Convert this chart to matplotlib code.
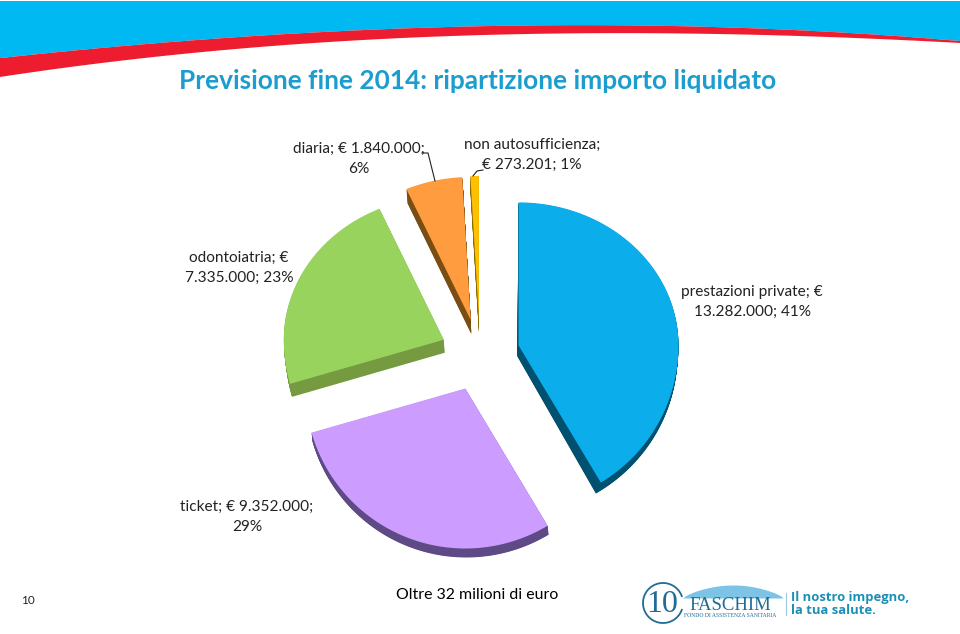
import matplotlib
matplotlib.use("Agg")
import matplotlib.pyplot as plt
import numpy as np

# data: importo liquidato (migliaia di euro)
categories = ["prestazioni private", "ticket", "odontoiatria", "diaria", "non autosufficienza"]
values = [13282, 9352, 7335, 1840, 273.201]
percent = [41, 29, 23, 6, 1]

top_colors = ["#0BAEEA", "#CC9CFF", "#98D35E", "#FF9C40", "#FFC000"]
side_colors = ["#00506F", "#5E4A85", "#769A40", "#7A4E12", "#8A6A00"]
# how the wall of each slice runs away from the top face (perspective)
wall_dx_start = [0, 1, 2, 1, 0]
wall_dx_end = [-5, 1, 2, 1, 0]
wall_dy = [11, 9, 13, 14, 14]

plt.rcParams["font.family"] = ["Lato", "DejaVu Sans"]

fig = plt.figure(figsize=(9.6, 6.34), dpi=100)
ax = fig.add_axes([0, 0, 1, 1])
ax.set_xlim(0, 960)
ax.set_ylim(634, 0)
ax.axis("off")

# header band
xs = np.linspace(0, 960, 200)
red_top = np.polyval(np.polyfit([0, 246, 492, 615, 960], [58, 37, 25, 26, 41], 3), xs)
red_bot = np.polyval(np.polyfit([0, 246, 492, 615, 800, 960], [77, 48, 35, 33, 36, 43], 3), xs)
ax.fill_between(xs, 1, red_top, color="#00B9F2", lw=0)
ax.fill_between(xs, red_top, red_bot, color="#ED1C2E", lw=0)

ax.text(478, 81, "Previsione fine 2014: ripartizione importo liquidato",
        fontsize=18.9, fontweight="bold", color="#1B9DCF", ha="center", va="center")

# exploded pie, projected by hand so the slices get a thickness
cx, cy = 480, 355
rx, ry_up, ry_down = 160, 143, 160
explode = 40


def project(theta, r=1.0):
    # theta clockwise from 12 o'clock
    dx = r * rx * np.sin(theta)
    c = np.cos(theta)
    dy = -r * c * np.where(c > 0, ry_up, ry_down)
    return dx, dy


total = sum(values)
start = 0.0
for i, val in enumerate(values):
    sweep = 2 * np.pi * val / total
    th = np.linspace(start, start + sweep, 80)
    mid = start + sweep / 2
    ox = cx + explode * np.sin(mid)
    oy = cy - explode * np.cos(mid) * 0.9
    dx, dy = project(th)
    px = np.r_[ox, ox + dx]
    py = np.r_[oy, oy + dy]
    # walls: the same outline pushed away step by step
    shift = wall_dx_start[i] + (wall_dx_end[i] - wall_dx_start[i]) * np.linspace(0, 1, 80) ** 3
    shift = np.r_[(wall_dx_start[i] + wall_dx_end[i]) / 4, shift]
    for t in np.linspace(0.05, 1, 20):
        ax.fill(px + t * shift, py + t * wall_dy[i], color=side_colors[i], lw=0, zorder=2)
    ax.fill(px, py, color=top_colors[i], lw=0, zorder=3)
    start += sweep

# leader lines
ax.plot([422, 428, 435], [153, 153, 181], color="#222222", lw=0.8, zorder=4)
ax.plot([483, 477, 473], [170, 171, 176], color="#222222", lw=0.8, zorder=4)

# data labels
lab = dict(fontsize=11.1, color="#222222", ha="center", va="center", linespacing=1.55)
ax.text(359, 159, "diaria; € 1.840.000;\n6%", **lab)
ax.text(532, 155, "non autosufficienza;\n€ 273.201; 1%", **lab)
ax.text(239, 268, "odontoiatria; €\n7.335.000; 23%", **lab)
ax.text(752, 302, "prestazioni private; €\n13.282.000; 41%", **lab)
ax.text(247, 517, "ticket; € 9.352.000;\n29%", **lab)

# footer
ax.text(28, 601, "10", fontsize=8.5, color="#222222", ha="center", va="center")
ax.text(477, 595, "Oltre 32 milioni di euro", fontsize=11.4, color="black", ha="center", va="center")

# logo
ring = np.linspace(0.35, 2 * np.pi - 0.35, 100)
ax.plot(663 + 20 * np.cos(ring), 603 + 20 * np.sin(ring), color="#1F6C94", lw=1.3)
ax.text(662, 604, "10", family="Liberation Serif", fontsize=23, color="#1F6C94", ha="center", va="center")
sx = np.linspace(683, 783, 60)
ax.fill_between(sx, 598 - 13 * np.sin(np.pi * (sx - 683) / 100) ** 0.7, 598, color="#7CC3E6", lw=0)
ax.text(730, 605, "FASCHIM", family="Liberation Serif", fontsize=13.5, color="#1F6C94", ha="center", va="center")
ax.text(730, 615.5, "FONDO DI ASSISTENZA SANITARIA", family="Liberation Serif", fontsize=4.1,
        color="#1F6C94", ha="center", va="center")
ax.plot([786, 786], [593, 615], color="#9CC5D8", lw=0.8)
ax.text(791, 598, "Il nostro impegno,", family="Open Sans", fontsize=9.4, fontweight="bold",
        color="#1C8FB5", ha="left", va="center")
ax.text(791, 611, "la tua salute.", family="Open Sans", fontsize=9.4, fontweight="bold",
        color="#1C8FB5", ha="left", va="center")

fig.savefig("out.png", dpi=100)
